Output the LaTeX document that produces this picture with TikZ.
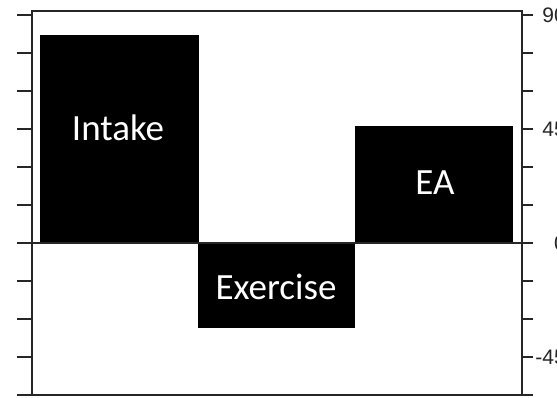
\documentclass[tikz,border=0pt]{standalone}
\usepackage{fontspec}
\setmainfont{Carlito}
\newfontfamily\axisfont{Liberation Sans}
\begin{document}
\begin{tikzpicture}[x=1pt,y=-1pt,
  bar/.style={fill=black,draw=none,inner sep=0pt,anchor=north west},
  barlabel/.style={text=white,inner sep=0pt,font=\fontsize{37}{42}\selectfont},
  axisline/.style={line width=2.3pt,draw=black!85},
  ticklabel/.style={anchor=east,inner sep=0pt,text=black!85,font=\axisfont\fontsize{21}{25}\selectfont}]
\useasboundingbox (0,0) rectangle (557,398);
\fill[white] (0,0) rectangle (557,398);
% bars
\node[bar,minimum width=159pt,minimum height=208pt] (intake) at (39.5,35) {};
\node[bar,minimum width=157pt,minimum height=85pt] (exercise) at (198,243) {};
\node[bar,minimum width=158pt,minimum height=117.5pt] (ea) at (355,125.5) {};
\node[barlabel] (intakelabel) at (118,128) {Intake};
\node[barlabel] (exerciselabel) at (276,287) {Exercise};
\node[barlabel] (ealabel) at (435,183) {EA};
% frame and zero line
\coordinate (tl) at (32,11);
\coordinate (br) at (522,395);
\draw[axisline] (tl) rectangle (br);
\coordinate (zl) at (32,243);
\coordinate (zr) at (522,243);
\draw[axisline] (zl) -- (zr);
% ticks
\foreach \k in {-4,...,6}{
  \draw[axisline] (17,{243-38*\k}) -- (32,{243-38*\k});
  \draw[axisline] (522,{243-38*\k}) -- (533,{243-38*\k});
}
% tick labels
\node[ticklabel] (l90) at (566,15) {90};
\node[ticklabel] (l45) at (566,129) {45};
\node[ticklabel] (l0) at (566,243) {0};
\node[ticklabel] (lm45) at (566,357) {-45};
\end{tikzpicture}
\end{document}
